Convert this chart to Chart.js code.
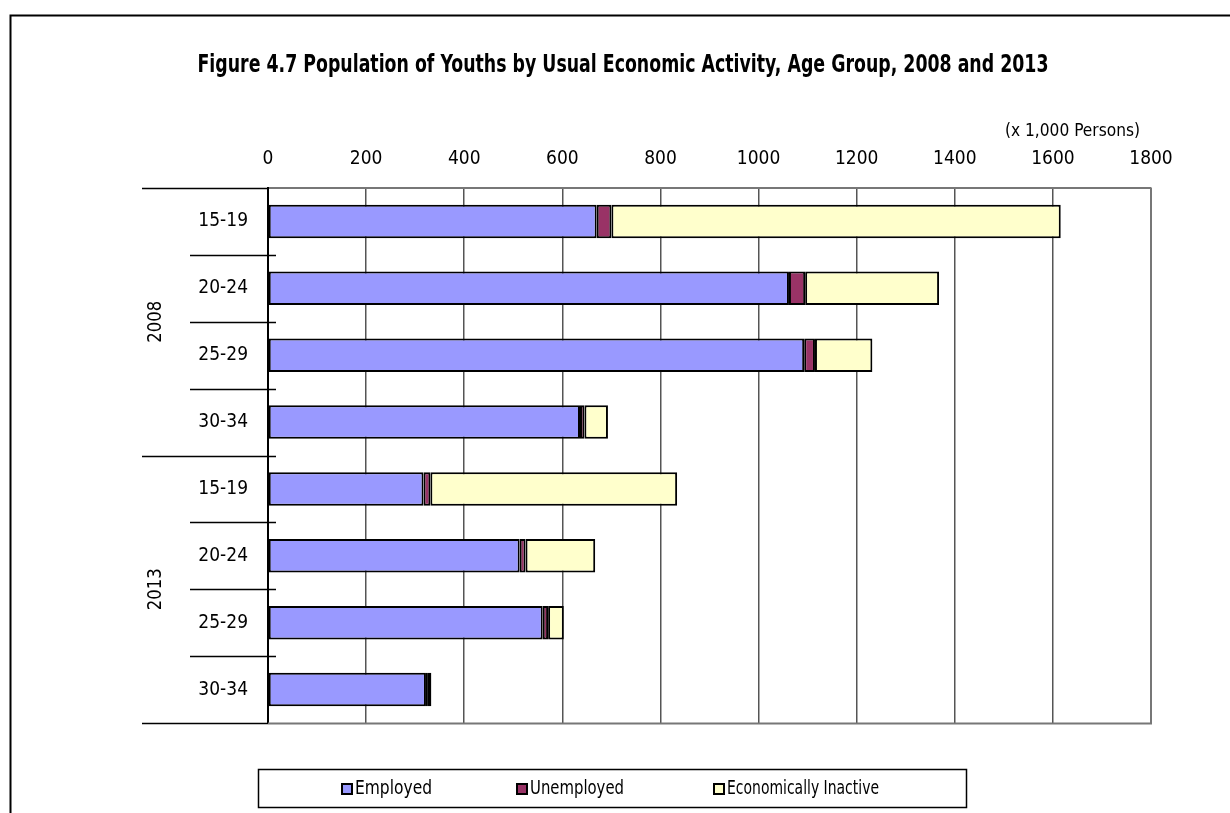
<!DOCTYPE html>
<html>
<head>
<meta charset="utf-8">
<title>Population of Youths by Usual Economic Activity</title>
<script src="https://cdn.jsdelivr.net/npm/chart.js@4/dist/chart.umd.min.js"></script>
<style>
  html, body { margin: 0; padding: 0; background: #fff; }
  #wrap { width: 1230px; height: 813px; }
</style>
</head>
<body>
<div id="wrap"><canvas id="youthChart" width="1230" height="813"></canvas></div>
<script>
// ---- data (x 1,000 persons) ----
const ageGroups = ['15-19', '20-24', '25-29', '30-34', '15-19', '20-24', '25-29', '30-34'];
const years = ['2008', '2013'];
const employed   = [670, 1062, 1093, 636, 317, 513, 560, 322];
const unemployed = [30, 33, 22, 9, 14, 12, 11, 4];
const inactive   = [916, 273, 117, 48, 503, 142, 32, 7];
const xMin = 0, xMax = 1800, xStep = 200;

const seriesNames = ['Employed', 'Unemployed', 'Economically Inactive'];
const seriesColors = ['#9999FF', '#993366', '#FFFFCC'];

const titleText = 'Figure 4.7 Population of Youths by Usual Economic Activity, Age Group, 2008 and 2013';
const unitText = '(x 1,000 Persons)';

const FONT = "'Liberation Sans Narrow', 'DejaVu Sans Condensed', 'Liberation Sans', sans-serif";

// draw text squeezed horizontally to a given width (left/center/right anchored)
function fitText(ctx, text, x, y, width, align) {
    const w = ctx.measureText(text).width;
    const sx = Math.min(1, width / w);
    ctx.save();
    ctx.translate(x, y);
    ctx.scale(sx, 1);
    ctx.textAlign = align;
    ctx.fillText(text, 0, 0);
    ctx.restore();
}

// everything drawn outside the plot area: frame, title, year groups, separators, legend
const decorations = {
    id: 'decorations',
    beforeDraw(chart) {
        const ctx = chart.ctx;
        ctx.save();
        ctx.fillStyle = '#fff';
        ctx.fillRect(0, 0, chart.width, chart.height);
        // outer frame
        ctx.strokeStyle = '#000';
        ctx.lineWidth = 2;
        ctx.beginPath();
        ctx.moveTo(10.5, chart.height);
        ctx.lineTo(10.5, 15.5);
        ctx.lineTo(chart.width, 15.5);
        ctx.stroke();
        ctx.restore();
    },
    afterDraw(chart) {
        const ctx = chart.ctx;
        const area = chart.chartArea;
        const yScale = chart.scales.y;
        const n = ageGroups.length;
        const band = (area.bottom - area.top) / n;
        ctx.save();
        ctx.fillStyle = '#000';
        ctx.textBaseline = 'middle';

        // title
        ctx.font = 'bold 24px ' + FONT;
        fitText(ctx, titleText, 623, 66, 851, 'center');

        // unit note
        ctx.font = '18px ' + FONT;
        fitText(ctx, unitText, 1140, 131, 135, 'right');

        // separators between age groups and year blocks
        ctx.strokeStyle = '#000';
        ctx.lineWidth = 1.5;
        for (let k = 0; k <= n; k++) {
            const y = Math.round(area.top + k * band) + 0.5;
            const x0 = (k % 4 === 0) ? 142 : 190;
            const x1 = (k === 0 || k === n) ? area.left : area.left + 8;
            ctx.beginPath();
            ctx.moveTo(x0, y);
            ctx.lineTo(x1, y);
            ctx.stroke();
        }
        // bottom and right edges of the plot area
        ctx.strokeStyle = '#777';
        ctx.lineWidth = 2;
        ctx.beginPath();
        ctx.moveTo(area.left, area.bottom + 0.5);
        ctx.lineTo(area.right, area.bottom + 0.5);
        ctx.lineTo(area.right, area.top);
        ctx.stroke();

        // year labels, rotated
        ctx.font = '20px ' + FONT;
        years.forEach((yr, i) => {
            const yMid = (yScale.getPixelForValue(i * 4) + yScale.getPixelForValue(i * 4 + 3)) / 2;
            ctx.save();
            ctx.translate(156, yMid);
            ctx.rotate(-Math.PI / 2);
            fitText(ctx, yr, 0, 0, 42, 'center');
            ctx.restore();
        });

        // legend box
        ctx.strokeStyle = '#000';
        ctx.lineWidth = 1.5;
        ctx.strokeRect(258.5, 769.5, 708, 38);
        const legendX = [342, 517, 714];
        const legendW = [77, 94, 152];
        ctx.font = '19px ' + FONT;
        chart.data.datasets.forEach((ds, i) => {
            const bx = legendX[i];
            ctx.fillStyle = ds.backgroundColor;
            ctx.fillRect(bx, 784, 10, 10);
            ctx.strokeStyle = '#000';
            ctx.lineWidth = 2;
            ctx.strokeRect(bx, 784, 10, 10);
            ctx.fillStyle = '#000';
            fitText(ctx, ds.label, bx + 13, 789.5, legendW[i], 'left');
        });
        ctx.restore();
    }
};

const datasets = [employed, unemployed, inactive].map((values, i) => ({
    label: seriesNames[i],
    data: values,
    backgroundColor: seriesColors[i],
    borderColor: '#000',
    borderWidth: 2,
    borderSkipped: false,
    barPercentage: 0.5,
    categoryPercentage: 1.0
}));

new Chart(document.getElementById('youthChart'), {
    type: 'bar',
    data: { labels: ageGroups, datasets: datasets },
    options: {
        indexAxis: 'y',
        responsive: false,
        animation: false,
        devicePixelRatio: 1,
        layout: { padding: { left: 0, top: 100, right: 79, bottom: 90 } },
        plugins: {
            legend: { display: false },
            title: { display: false },
            tooltip: { enabled: false }
        },
        scales: {
            x: {
                position: 'top',
                stacked: true,
                min: xMin,
                max: xMax,
                afterFit: (scale) => { scale.height = 88; },
                ticks: {
                    stepSize: xStep,
                    color: '#000',
                    padding: 18,
                    maxRotation: 0,
                    callback: (v) => String(v),
                    font: { family: FONT, size: 19 }
                },
                grid: { color: '#555', lineWidth: 1.5, drawTicks: false },
                border: { display: true, color: '#777', width: 2 }
            },
            y: {
                stacked: true,
                afterFit: (scale) => { scale.width = 268; },
                ticks: {
                    color: '#000',
                    padding: 20,
                    font: { family: FONT, size: 19 }
                },
                grid: { display: false, drawTicks: false },
                border: { display: true, color: '#000', width: 2 }
            }
        }
    },
    plugins: [decorations]
});
</script>
</body>
</html>
